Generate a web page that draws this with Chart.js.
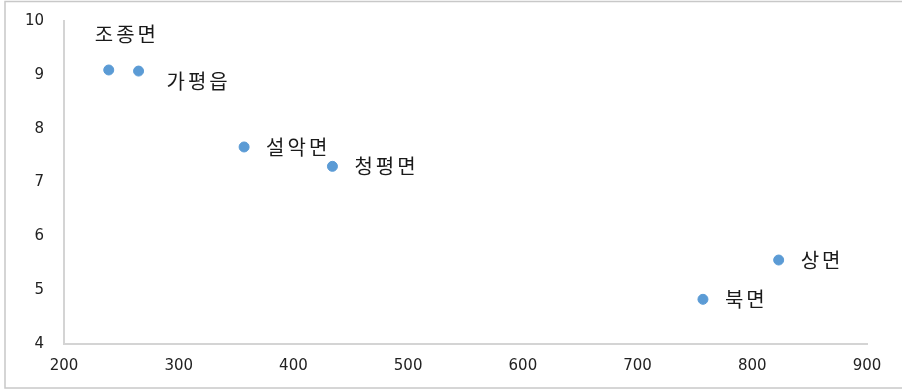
<!DOCTYPE html>
<html>
<head>
<meta charset="utf-8">
<script src="https://cdn.jsdelivr.net/npm/chart.js@4"></script>
<style>
  html, body { margin: 0; padding: 0; background: #fff; }
  #wrap { width: 902px; height: 390px; position: relative; }
</style>
</head>
<body>
<div id="wrap"><canvas id="chart"></canvas></div>
<script>
// region names and their (x, y) values
const regions = ["조종면", "가평읍", "설악면", "청평면", "북면", "상면"];
const xValues = [239, 265, 357, 434, 757, 823];
const yValues = [9.09, 9.07, 7.66, 7.30, 4.83, 5.56];

// where each name sits relative to its point
const labelSide = ["above", "belowRight", "right", "right", "right", "right"];

const points = regions.map((name, i) => ({ x: xValues[i], y: yValues[i], name }));

// gray frame around the whole chart
const framePlugin = {
  id: "frame",
  beforeDraw(chart) {
    const ctx = chart.ctx;
    ctx.save();
    ctx.strokeStyle = "#c8c8c8";
    ctx.lineWidth = 1.5;
    ctx.strokeRect(5, 1.5, chart.width + 10, 386.5);
    ctx.restore();
  }
};

// draws the region name next to each point
const nameLabels = {
  id: "nameLabels",
  afterDatasetsDraw(chart) {
    const ctx = chart.ctx;
    const meta = chart.getDatasetMeta(0);
    ctx.save();
    ctx.font = "20px 'Noto Sans CJK KR', sans-serif";
    ctx.letterSpacing = "3px";
    ctx.fillStyle = "#1a1a1a";
    ctx.textBaseline = "middle";
    meta.data.forEach((pt, i) => {
      const side = labelSide[i];
      let tx = pt.x, ty = pt.y;
      if (side === "above") {
        ctx.textAlign = "left";
        tx = pt.x - 14;
        ty = pt.y - 36;
      } else if (side === "belowRight") {
        ctx.textAlign = "left";
        tx = pt.x + 28;
        ty = pt.y + 10;
      } else {
        ctx.textAlign = "left";
        tx = pt.x + 22;
        ty = pt.y;
      }
      ctx.fillText(regions[i], tx, ty);
    });
    ctx.restore();
  }
};

const tickFont = { family: "'DejaVu Sans', Verdana, sans-serif", size: 15 };

new Chart(document.getElementById("chart"), {
  type: "scatter",
  data: {
    datasets: [{
      data: points,
      backgroundColor: "#5b9bd5",
      borderColor: "#5b9bd5",
      pointRadius: 5,
      pointHoverRadius: 5
    }]
  },
  options: {
    responsive: true,
    maintainAspectRatio: false,
    animation: false,
    layout: { padding: { top: 21, right: 35, left: 0, bottom: 0 } },
    plugins: {
      legend: { display: false },
      tooltip: { enabled: false }
    },
    scales: {
      x: {
        type: "linear",
        min: 200,
        max: 900,
        ticks: { stepSize: 100, color: "#222", font: tickFont, padding: 13 },
        grid: { display: false, drawTicks: false },
        border: { color: "#d4d4d4", width: 2 },
        afterFit(scale) { scale.height = 46; }
      },
      y: {
        min: 4,
        max: 10,
        ticks: { stepSize: 1, color: "#222", font: tickFont, padding: 20 },
        grid: { display: false, drawTicks: false },
        border: { color: "#d4d4d4", width: 2 },
        afterFit(scale) {
          scale.width = 64;
          scale.paddingTop = 0;
          scale.paddingBottom = 0;
        }
      }
    }
  },
  plugins: [framePlugin, nameLabels]
});
</script>
</body>
</html>
